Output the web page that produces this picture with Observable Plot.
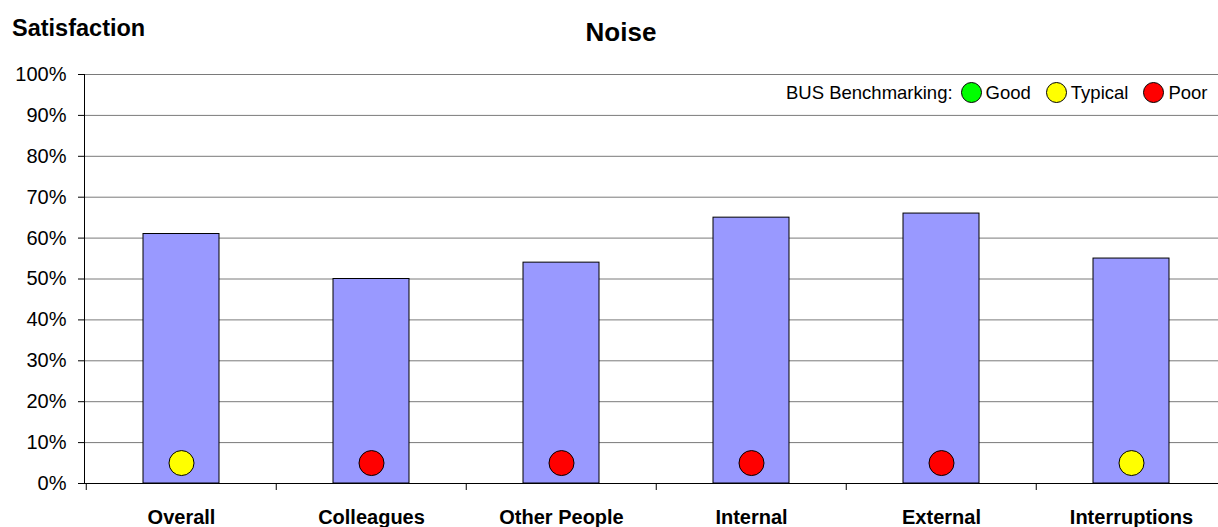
<!DOCTYPE html>
<html>
<head>
<meta charset="utf-8">
<script src="https://cdn.jsdelivr.net/npm/d3@7"></script>
<script src="https://cdn.jsdelivr.net/npm/@observablehq/plot@0.6"></script>
<style>
  html, body { margin: 0; padding: 0; background: #fff; }
  body { font-family: "Liberation Sans", Arial, sans-serif; }
  #wrap { position: relative; width: 1218px; height: 527px; overflow: hidden; }
  #chart svg { max-width: none !important; display: block; }
  #ytitle { position: absolute; left: 12px; top: 15px; font-size: 23.5px; font-weight: bold; line-height: 1.15; }
  #title { position: absolute; left: 0; width: 1218px; top: 18px; text-align: center; font-size: 26px; font-weight: bold; padding-left: 24px; box-sizing: border-box; line-height: 1.15; }
  #legend { position: absolute; left: 786px; top: 82px; font-size: 18.5px; display: flex; align-items: center; white-space: nowrap; line-height: 21px; }
  #legend .sw { display: inline-block; width: 21px; height: 21px; border-radius: 50%; border: 1px solid #000; box-sizing: border-box; margin: 0 4px 0 0; }
  #legend .lab { margin-right: 15px; }
</style>
</head>
<body>
<div id="wrap">
  <div id="chart"></div>
  <div id="ytitle">Satisfaction</div>
  <div id="title">Noise</div>
  <div id="legend"></div>
</div>
<script>
const categories = ["Overall", "Colleagues", "Other People", "Internal", "External", "Interruptions"];
const satisfaction = [0.61, 0.50, 0.54, 0.65, 0.66, 0.55];
const benchmark = ["Typical", "Poor", "Poor", "Poor", "Poor", "Typical"];
const benchmarkLevels = ["Good", "Typical", "Poor"];
const benchmarkColors = ["#00FF00", "#FFFF00", "#FF0000"];
const yTicks = [0, 0.1, 0.2, 0.3, 0.4, 0.5, 0.6, 0.7, 0.8, 0.9, 1.0];
const dotLevel = 0.05;

const W = 1227, H = 527, mL = 84, mR = 0, mT = 74, mB = 44;
const data = categories.map((c, i) => ({cat: c, value: satisfaction[i], bench: benchmark[i]}));
const step = (W - mL - mR) / categories.length;
const colorOf = Object.fromEntries(benchmarkLevels.map((l, i) => [l, benchmarkColors[i]]));

const chart = Plot.plot({
  width: W, height: H,
  marginLeft: mL, marginRight: mR, marginTop: mT, marginBottom: mB,
  style: {fontFamily: "'Liberation Sans', Arial, sans-serif", background: "white", overflow: "visible", maxWidth: "none"},
  x: {domain: categories, paddingInner: 0.6, paddingOuter: 0.3, align: 0.5, label: null},
  y: {domain: [0, 1], label: null},
  marks: [
    Plot.ruleY(yTicks.slice(1), {stroke: "#7a7a7a", strokeWidth: 1}),
    Plot.barY(data, {x: "cat", y: "value", fill: "#9999FF", stroke: "#000", strokeWidth: 1}),
    Plot.dot(data, {x: "cat", y: () => dotLevel, r: 12.5, fill: d => colorOf[d.bench], stroke: "#000", strokeWidth: 1}),
    Plot.axisY({ticks: yTicks, tickFormat: d3.format(".0%"), tickSize: 6, tickPadding: 12, fontSize: 20, stroke: "#000", color: "#000", label: null}),
    Plot.axisX({tickSize: 0, tickPadding: 26, fontSize: 20, fontWeight: "bold", color: "#000", label: null}),
    Plot.ruleX(categories, {x: d => d, y1: 0, y2: 0, insetBottom: -7, dx: -step / 2, stroke: "#000"}),
    Plot.frame({anchor: "left", stroke: "#000"}),
    Plot.ruleY([0], {stroke: "#000"})
  ]
});
document.getElementById("chart").appendChild(chart);

const lg = document.getElementById("legend");
const lead = document.createElement("span");
lead.textContent = "BUS Benchmarking:";
lead.className = "lab";
lead.style.marginRight = "8px";
lg.appendChild(lead);
benchmarkLevels.forEach((l, i) => {
  const s = document.createElement("span");
  s.className = "sw";
  s.style.background = benchmarkColors[i];
  lg.appendChild(s);
  const t = document.createElement("span");
  t.className = "lab";
  t.textContent = l;
  if (i === benchmarkLevels.length - 1) t.style.marginRight = "0";
  lg.appendChild(t);
});
</script>
</body>
</html>
